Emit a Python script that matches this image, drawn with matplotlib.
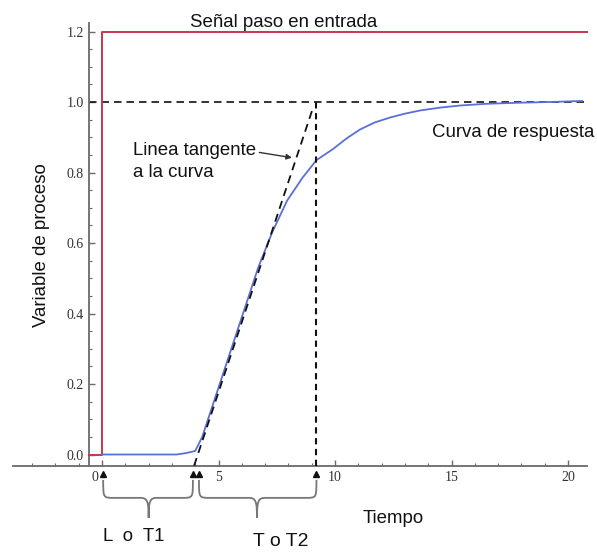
import matplotlib
matplotlib.use("Agg")
import matplotlib.pyplot as plt
import matplotlib.transforms as mtransforms
from matplotlib.path import Path
from matplotlib.patches import PathPatch
from matplotlib.ticker import FixedLocator

# ---------------- data ----------------
step_x = [-0.54, 0, 0, 20.8]
step_y = [0, 0, 1.2, 1.2]

resp_t = [0, 3.2, 3.6, 4.0, 4.3, 4.85, 5.5, 6.1, 6.7, 7.3, 7.94, 8.6, 9.2, 9.9,
          10.5, 11.07, 11.7, 12.36, 13.0, 13.65, 14.5, 15.36, 16.5, 17.9, 19.2, 20.6]
resp_y = [0, 0, 0.004, 0.01, 0.05, 0.16, 0.29, 0.41, 0.53, 0.63, 0.72, 0.785, 0.835,
          0.866, 0.897, 0.922, 0.942, 0.956, 0.967, 0.976, 0.984, 0.99, 0.995, 0.998,
          1.0, 1.003]

tangent_x = [3.95, 9.06]
tangent_y = [-0.032, 0.985]

final_level = 1.0
t2_time = 9.2
l_time = 3.9
t_start = 4.16

x_major = [0, 5, 10, 15, 20]
x_minor = list(range(-3, 21))
y_major = [0.0, 0.2, 0.4, 0.6, 0.8, 1.0, 1.2]
y_minor = [i * 0.05 for i in range(0, 25)]

# ---------------- figure ----------------
fig = plt.figure(figsize=(5.97, 5.52), dpi=100)
ax = fig.add_axes([0, 0, 1, 1])
ax.set_xlim(-4.378, 21.24)
ax.set_ylim(-0.2766, 1.2894)
ax.patch.set_alpha(0)

axis_col = "#6a6a6a"
for s in ["top", "right"]:
    ax.spines[s].set_visible(False)
ax.spines["left"].set_position(("data", -0.54))
ax.spines["bottom"].set_position(("data", -0.032))
ax.spines["left"].set_bounds(-0.032, 1.223)
ax.spines["bottom"].set_bounds(-3.8, 20.8)
for s in ["left", "bottom"]:
    ax.spines[s].set_color(axis_col)
    ax.spines[s].set_linewidth(1.3)

ax.xaxis.set_major_locator(FixedLocator(x_major))
ax.xaxis.set_minor_locator(FixedLocator(x_minor))
ax.yaxis.set_major_locator(FixedLocator(y_major))
ax.yaxis.set_minor_locator(FixedLocator(y_minor))
ax.set_xticklabels([str(v) for v in x_major])
ax.set_yticklabels([f"{v:.1f}" for v in y_major])
ax.tick_params(which="major", direction="in", length=4, width=1, color=axis_col,
               labelsize=10, labelcolor="#333333", pad=4)
ax.tick_params(which="minor", direction="in", length=2.5, width=0.8, color=axis_col)
for lab in ax.get_xticklabels() + ax.get_yticklabels():
    lab.set_family("Liberation Serif")
# the "0" label sits a little to the left of its tick in the reference
zero_lab = ax.get_xticklabels()[0]
zero_lab.set_transform(zero_lab.get_transform() +
                       mtransforms.ScaledTranslation(-5 / 72, 0, fig.dpi_scale_trans))

# step input
ax.plot(step_x, step_y, color="#c8364a", lw=1.4, zorder=3)
# response curve
ax.plot(resp_t, resp_y, color="#5b6fd8", lw=1.3, zorder=4)
# dashed helper lines
ax.plot([-0.54, 20.8], [final_level, final_level], color="#111111", lw=1.2,
        ls=(0, (4.5, 3)), zorder=2)
ax.plot(tangent_x, tangent_y, color="#111111", lw=1.3, ls=(0, (4.5, 3)), zorder=5)
ax.plot([t2_time, t2_time], [-0.032, final_level], color="#111111", lw=1.5,
        ls=(0, (3, 2.2)), zorder=5)

# braces
brace_col = "#777777"
y_top = -0.072
y_mid = -0.123
y_bot = -0.18


def brace(a, b, m):
    verts = [(a, y_top), (a, y_mid), (a, y_mid), (a + 0.45, y_mid),
             (m - 0.35, y_mid),
             (m - 0.05, y_mid), (m, y_mid - 0.01), (m, y_bot),
             (m, y_mid - 0.01), (m + 0.05, y_mid), (m + 0.35, y_mid),
             (b - 0.45, y_mid),
             (b, y_mid), (b, y_mid), (b, y_top)]
    codes = [Path.MOVETO, Path.CURVE4, Path.CURVE4, Path.CURVE4,
             Path.LINETO,
             Path.CURVE4, Path.CURVE4, Path.CURVE4,
             Path.CURVE4, Path.CURVE4, Path.CURVE4,
             Path.LINETO,
             Path.CURVE4, Path.CURVE4, Path.CURVE4]
    ax.add_patch(PathPatch(Path(verts, codes), fill=False, ec=brace_col, lw=1.3,
                           zorder=3))


brace(0.05, l_time, 2.0)
brace(t_start, t2_time, 6.65)
ax.plot([0.05, l_time, t_start, t2_time], [-0.055] * 4, ls="none", marker="^",
        ms=5, color="#111111", zorder=6)

# texts
tfont = "Liberation Sans"
tcol = "#111111"
fs = 13.4
ax.text(3.78, 1.2128, "Señal paso en entrada", family=tfont, fontsize=fs,
        color=tcol, ha="left", va="baseline")
ax.text(-2.6, 0.594, "Variable de proceso", family=tfont, fontsize=fs,
        color=tcol, ha="center", va="center", rotation=90)
ax.text(1.33, 0.8496, "Linea tangente", family=tfont, fontsize=fs, color=tcol,
        ha="left", va="baseline")
ax.text(1.33, 0.787, "a la curva", family=tfont, fontsize=fs, color=tcol,
        ha="left", va="baseline")
ax.annotate("", xy=(8.15, 0.842), xytext=(6.75, 0.857),
            arrowprops=dict(arrowstyle="-|>", color="#333333", lw=1,
                            mutation_scale=8, shrinkA=0, shrinkB=0))
ax.text(14.16, 0.902, "Curva de respuesta", family=tfont, fontsize=fs,
        color=tcol, ha="left", va="baseline")
ax.text(11.2, -0.194, "Tiempo", family=tfont, fontsize=fs, color=tcol,
        ha="left", va="baseline")
ax.text(0.04, -0.245, "L  o  T1", family=tfont, fontsize=13.4, color=tcol,
        ha="left", va="baseline")
ax.text(6.48, -0.26, "T o T2", family=tfont, fontsize=14, color=tcol,
        ha="left", va="baseline")

fig.savefig("out.png", dpi=100)
